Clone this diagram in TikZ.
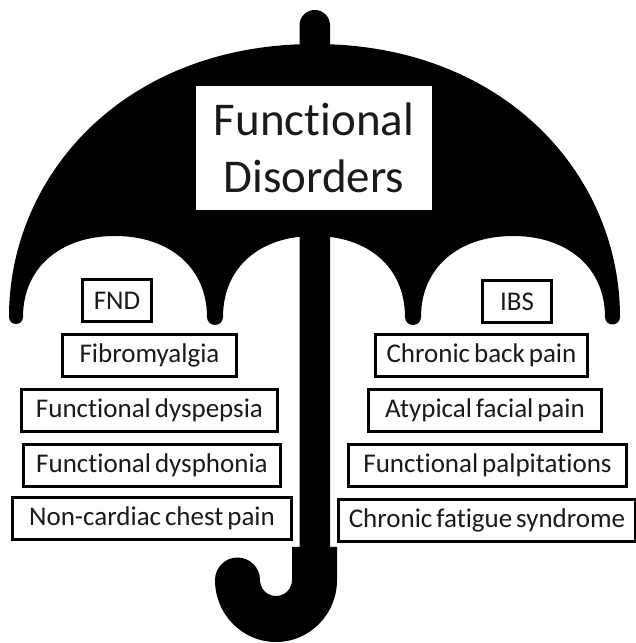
\documentclass[tikz,border=0pt]{standalone}
\usepackage{fontspec}
\setmainfont[Ligatures=NoCommon,WordSpace=0.65]{Carlito}
\usetikzlibrary{positioning}
\definecolor{inkgrey}{HTML}{1A1A1A}
\tikzset{
  titlebox/.style={
    rectangle, fill=white, minimum width=236pt, minimum height=124pt,
    align=center, inner sep=0pt, text=inkgrey,
    font=\fontsize{47}{57}\selectfont
  },
  listbox/.style={
    rectangle, draw=black, line width=3pt, fill=white,
    minimum height=42pt, inner sep=0pt, text=inkgrey,
    font=\fontsize{27}{30}\selectfont
  },
}

\begin{document}
\begin{tikzpicture}[x=1pt, y=1pt, node distance=10pt]
  \useasboundingbox (0,0) rectangle (636,643);
  \fill[white] (0,0) rectangle (636,643);

  % canopy
  \fill[black] (9,326) .. controls (9,468) and (124.5,599) .. (314.5,599)
    .. controls (504.5,599) and (620,468) .. (620,326)
    arc[start angle=0, end angle=-180, radius=7.5]
    .. controls (605,375) and (568,407) .. (513,407)
    .. controls (458,407) and (421,375) .. (421,326)
    arc[start angle=0, end angle=-180, radius=8]
    .. controls (405,375) and (369,407) .. (314,407)
    .. controls (259,407) and (223,375) .. (223,326)
    arc[start angle=0, end angle=-180, radius=8]
    .. controls (207,375) and (170,407) .. (115,407)
    .. controls (60,407) and (23,375) .. (23,326)
    arc[start angle=0, end angle=-180, radius=7] -- cycle;
  % pole and hook
  \fill[black] (299.5,90) -- (299.5,617.75) arc[start angle=180, end angle=0, radius=15.25] -- (330,90) -- cycle;
  \fill[black] (337,96) -- (337,63)
    arc[start angle=0, end angle=-180, x radius=61, y radius=62]
    arc[start angle=180, end angle=0, radius=22.5]
    arc[start angle=180, end angle=360, radius=16]
    -- (292,96) -- cycle;

  \node[titlebox] (title) at (314,495) {Functional\\Disorders};

  \node[listbox, minimum width=69pt] (fnd) at (117,342.5) {FND};
  \node[listbox, minimum width=174pt, below=of fnd, xshift=32.5pt] (fibro) {Fibromyalgia};
  \node[listbox, minimum width=256pt, below=of fibro] (dyspepsia) {Functional dyspepsia};
  \node[listbox, minimum width=257pt, below=of dyspepsia, xshift=2.5pt] (dysphonia) {Functional dysphonia};
  \node[listbox, minimum width=279pt, below=8pt of dysphonia] (chest) {Non-cardiac chest pain};

  \node[listbox, minimum width=69pt] (ibs) at (517,341.5) {IBS};
  \node[listbox, minimum width=212pt, below=9pt of ibs, xshift=-35.5pt] (back) {Chronic back pain};
  \node[listbox, minimum width=233pt, below=of back, xshift=3.5pt] (facial) {Atypical facial pain};
  \node[listbox, minimum width=278pt, below=of facial, xshift=2.5pt] (palp) {Functional palpitations};
  \node[listbox, minimum width=297pt, below=of palp, xshift=-0.5pt] (fatigue) {Chronic fatigue syndrome};
\end{tikzpicture}
\end{document}
